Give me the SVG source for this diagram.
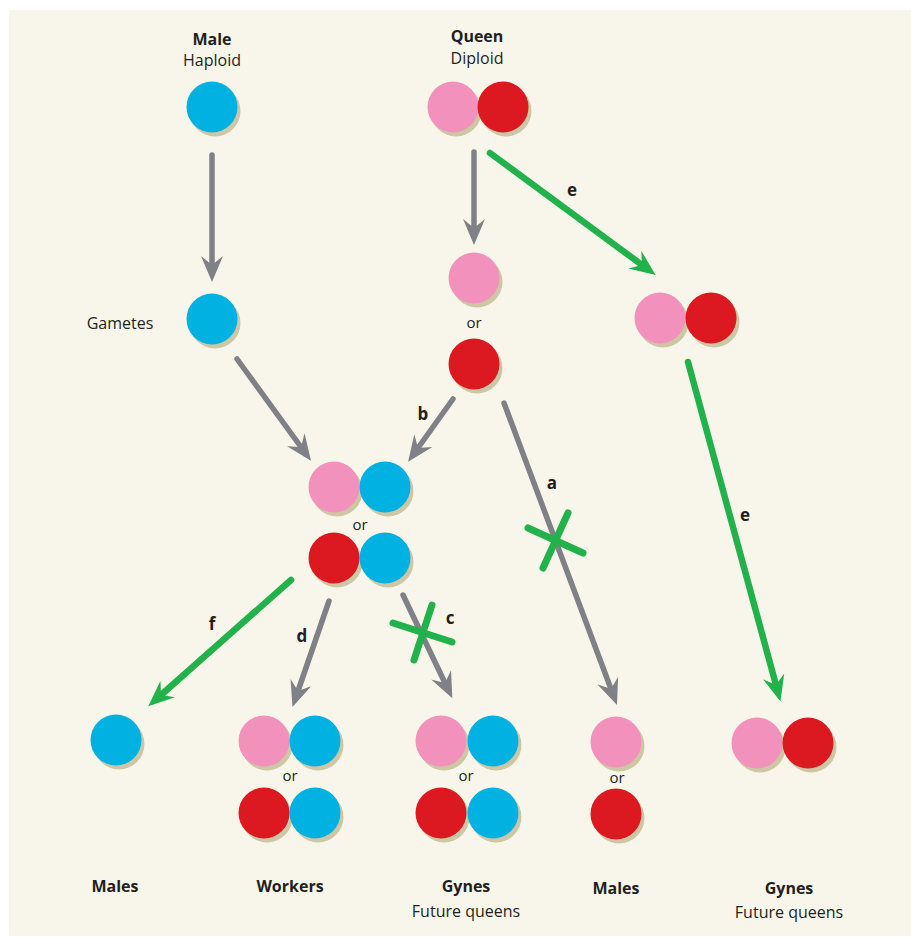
<svg xmlns="http://www.w3.org/2000/svg" width="911" height="938" viewBox="0 0 911 938">
<style>
.bl{fill:#00b1e1}.pk{fill:#f292bc}.rd{fill:#dc1921}.sh{fill:#cdc7a6}
text{font-family:"Open Sans","Noto Sans","Liberation Sans",sans-serif;fill:#231f20;text-anchor:middle}
.b{font-weight:bold;font-size:16px}.r{font-size:16px}.or{font-size:15px}.lt{font-weight:bold;font-size:17px}
.g{stroke:#808186;stroke-width:5.5;fill:none;stroke-linecap:round}
.gr{stroke:#21b24b;stroke-width:6.5;fill:none;stroke-linecap:round}
.x{stroke:#21b24b;stroke-width:7;fill:none;stroke-linecap:round}
</style>
<defs>
<marker id="ag" viewBox="0 0 26 22" refX="9" refY="11" markerWidth="26" markerHeight="22" markerUnits="userSpaceOnUse" orient="auto"><path d="M0,0 L26,11 L0,22 L9,11 Z" fill="#808186"/></marker>
<marker id="agr" viewBox="0 0 26 22" refX="9" refY="11" markerWidth="26" markerHeight="22" markerUnits="userSpaceOnUse" orient="auto"><path d="M0,0 L26,11 L0,22 L9,11 Z" fill="#21b24b"/></marker>
<symbol id="B" overflow="visible"><circle class="sh" cx="3" cy="4" r="25.5"/><circle class="bl" r="25.5"/></symbol>
<symbol id="P" overflow="visible"><circle class="sh" cx="3" cy="4" r="25.5"/><circle class="pk" r="25.5"/></symbol>
<symbol id="R" overflow="visible"><circle class="sh" cx="3" cy="4" r="25.5"/><circle class="rd" r="25.5"/></symbol>
</defs>
<rect x="9" y="10" width="902" height="926" fill="#f8f6ea"/>

<g id="connectors">
<line class="g" x1="212" y1="155" x2="212" y2="265" marker-end="url(#ag)"/>
<line class="g" x1="474" y1="152" x2="474" y2="228" marker-end="url(#ag)"/>
<line class="gr" x1="490" y1="153" x2="642" y2="265" marker-end="url(#agr)"/>
<line class="gr" x1="688" y1="362" x2="776" y2="685" marker-end="url(#agr)"/>
<line class="g" x1="237" y1="359" x2="301" y2="447" marker-end="url(#ag)"/>
<line class="g" x1="453" y1="399" x2="418" y2="448" marker-end="url(#ag)"/>
<line class="g" x1="504" y1="403" x2="611" y2="689" marker-end="url(#ag)"/>
<line class="gr" x1="291" y1="580" x2="161" y2="695" marker-end="url(#agr)"/>
<line class="g" x1="329" y1="601" x2="298" y2="691" marker-end="url(#ag)"/>
<line class="g" x1="403" y1="595" x2="445" y2="683" marker-end="url(#ag)"/>
<line class="x" x1="393" y1="623" x2="452" y2="642"/>
<line class="x" x1="432" y1="605" x2="414" y2="660"/>
<line class="x" x1="528" y1="528" x2="583" y2="553"/>
<line class="x" x1="568" y1="513" x2="543" y2="568"/>
<text class="lt" x="572" y="196">e</text>
<text class="lt" x="745" y="521">e</text>
<text class="lt" x="423" y="420">b</text>
<text class="lt" x="552" y="489">a</text>
<text class="lt" x="450" y="624">c</text>
<text class="lt" x="212" y="630">f</text>
<text class="lt" x="302" y="642">d</text>
</g>

<g id="male"><text class="b" x="212" y="45">Male</text><text class="r" x="212" y="66">Haploid</text><use href="#B" x="212" y="107"/></g>
<g id="queen"><text class="b" x="477" y="42">Queen</text><text class="r" x="477" y="64">Diploid</text><use href="#P" x="453" y="107"/><use href="#R" x="503" y="107"/></g>
<g id="male-gamete"><text class="r" x="120" y="329">Gametes</text><use href="#B" x="212" y="319"/></g>
<g id="queen-gametes"><use href="#P" x="474" y="278"/><text class="or" x="474" y="328">or</text><use href="#R" x="474" y="364"/></g>
<g id="queen-clone"><use href="#P" x="660" y="318"/><use href="#R" x="711" y="318"/></g>
<g id="zygotes"><use href="#P" x="334" y="487"/><use href="#B" x="385" y="487"/><text class="or" x="360" y="530">or</text><use href="#R" x="334" y="558"/><use href="#B" x="385" y="558"/></g>
<g id="males-f"><use href="#B" x="116" y="740"/><text class="b" x="115" y="892">Males</text></g>
<g id="workers"><use href="#P" x="264" y="741"/><use href="#B" x="315" y="741"/><text class="or" x="290" y="781">or</text><use href="#R" x="264" y="813"/><use href="#B" x="315" y="813"/><text class="b" x="290" y="892">Workers</text></g>
<g id="gynes-c"><use href="#P" x="441" y="741"/><use href="#B" x="493" y="741"/><text class="or" x="466" y="781">or</text><use href="#R" x="441" y="813"/><use href="#B" x="493" y="813"/><text class="b" x="466" y="892">Gynes</text><text class="r" x="466" y="917">Future queens</text></g>
<g id="males-a"><use href="#P" x="616" y="742"/><text class="or" x="617" y="783">or</text><use href="#R" x="616" y="814"/><text class="b" x="616" y="894">Males</text></g>
<g id="gynes-e"><use href="#P" x="757" y="743"/><use href="#R" x="808" y="743"/><text class="b" x="789" y="894">Gynes</text><text class="r" x="789" y="918">Future queens</text></g>
</svg>
